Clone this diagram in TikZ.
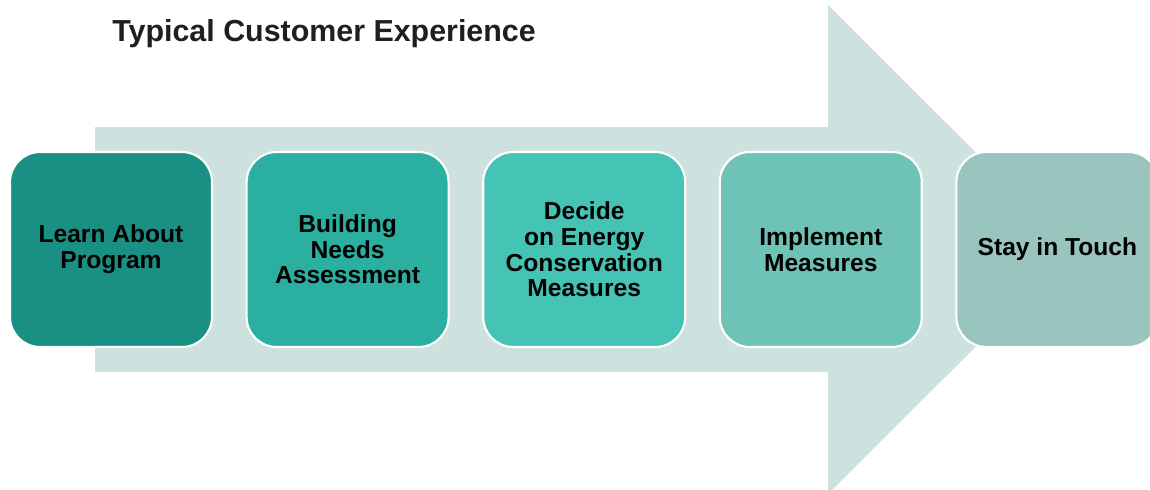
\documentclass[tikz,border=0pt]{standalone}
\usepackage{fontspec}
\setmainfont{Liberation Sans}
\definecolor{arrowbg}{HTML}{CDE1DE}
\definecolor{stepA}{HTML}{1A8F84}
\definecolor{stepB}{HTML}{2BAFA0}
\definecolor{stepC}{HTML}{45C4B5}
\definecolor{stepD}{HTML}{6FC2B6}
\definecolor{stepE}{HTML}{9AC5BF}
\begin{document}
\begin{tikzpicture}[x=0.02cm,y=-0.02cm,
    stage/.style={draw=white,line width=1.2pt,rounded corners=0.6cm,
      minimum width=4.04cm,minimum height=3.9cm,align=center,
      font=\bfseries\fontsize{14}{14.6}\selectfont,text=black}]
    \useasboundingbox (0,0) rectangle (1150,490);
    % big background arrow
    \fill[arrowbg] (95,127) -- (828,127) -- (828,5) -- (1073,249.5)
      -- (828,494) -- (828,372) -- (95,372) -- cycle;
    \node[anchor=base west,inner sep=0pt,font=\bfseries\fontsize{17.3}{20}\selectfont,text=black!88]
      (title) at (112,41) {Typical Customer Experience};
    % the five stages
    \foreach \i/\col/\txt in {1/stepA/{Learn About\\Program},
        2/stepB/{Building\\Needs\\Assessment},
        3/stepC/{Decide\\on Energy\\Conservation\\Measures},
        4/stepD/{Implement\\Measures},
        5/stepE/{Stay in Touch}}
    {
      \node[stage,fill=\col] (s\i) at ({111+236.6*(\i-1)},249.5) {\txt};
    }
\end{tikzpicture}
\end{document}
